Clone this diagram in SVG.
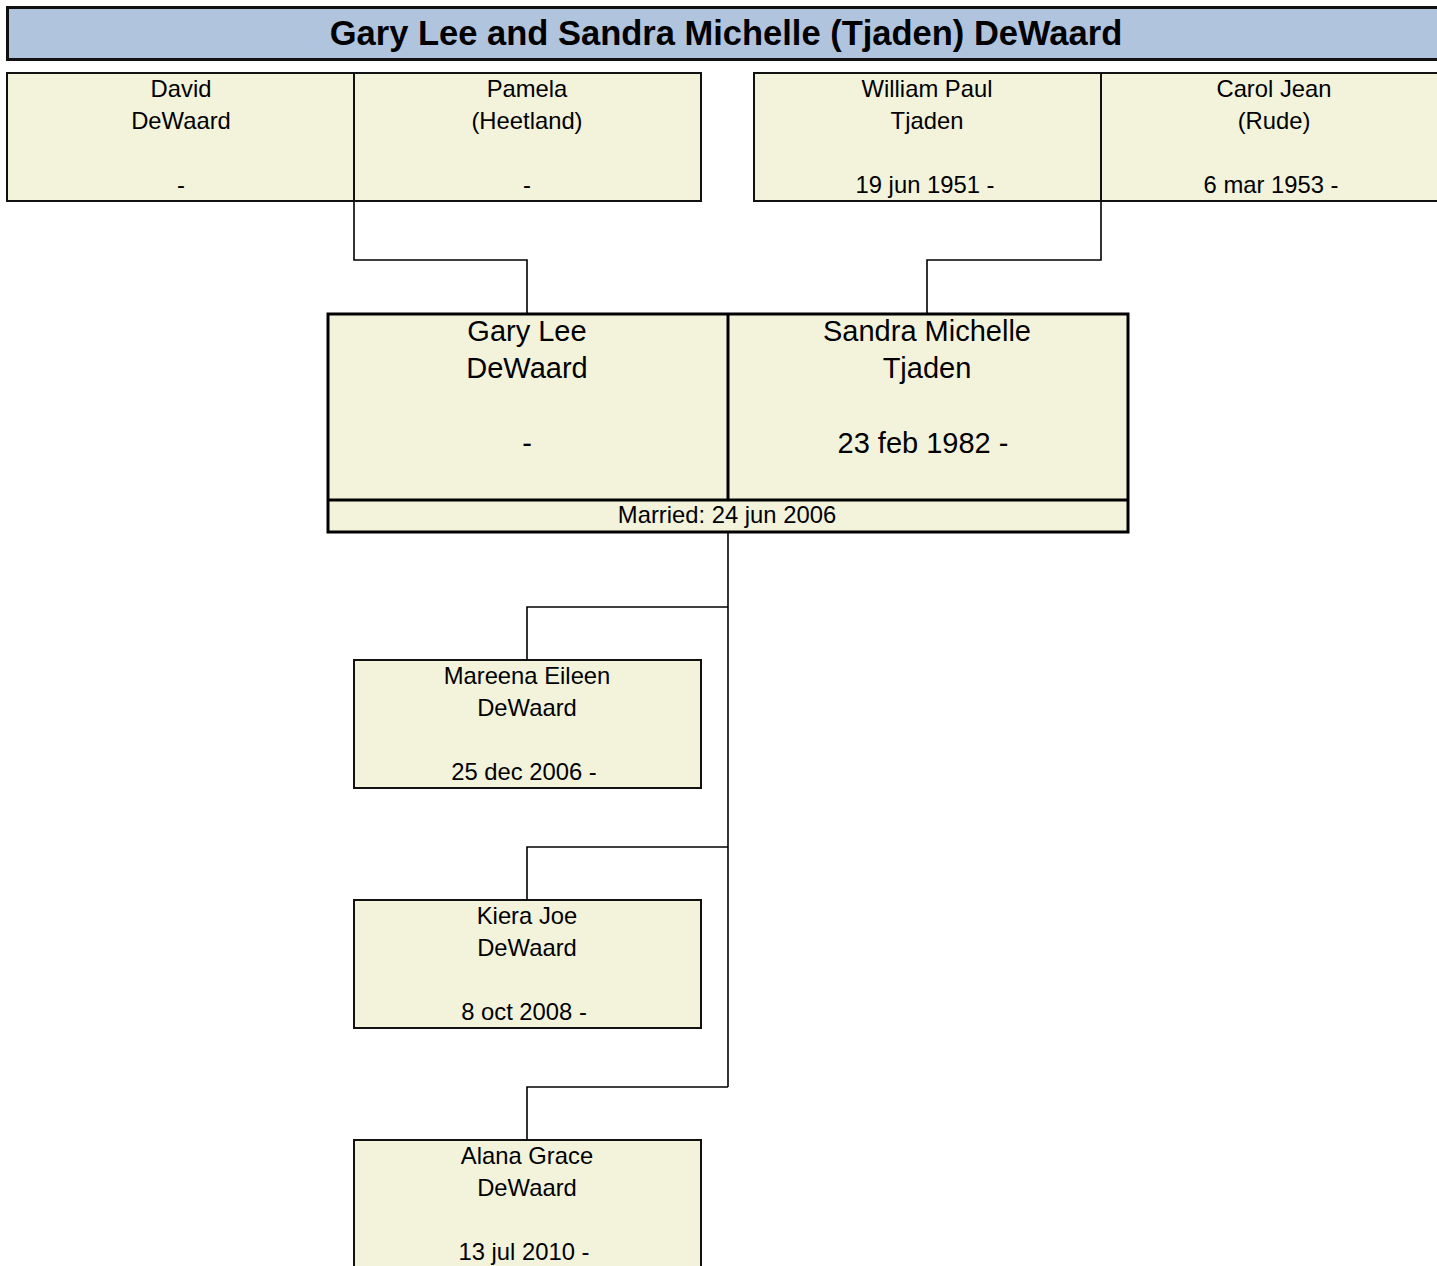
<svg xmlns="http://www.w3.org/2000/svg" width="1437" height="1266" viewBox="0 0 1437 1266">
<style>
.bg{fill:#ffffff}
.title{fill:#B0C4DE;stroke:#111;stroke-width:3}
.box{fill:#F3F3DC;stroke:#111;stroke-width:2}
.cbox{fill:#F3F3DC;stroke:#000;stroke-width:3}
.conn{fill:none;stroke:#000;stroke-width:1.6}
text{font-family:"Liberation Sans",Arial,sans-serif;fill:#000;text-anchor:middle}
.tt{font-size:34.5px;font-weight:bold}
.s{font-size:23.8px}
.b{font-size:29px}
</style>
<rect class="bg" x="0" y="0" width="1437" height="1266"/>
<g id="title">
<rect class="title" x="7.5" y="7.5" width="1440" height="52"/>
<text class="tt" x="726" y="45">Gary Lee and Sandra Michelle (Tjaden) DeWaard</text>
</g>
<g id="connectors">
<polyline class="conn" points="354,201 354,260 527,260 527,313"/>
<polyline class="conn" points="1101,201 1101,260 927,260 927,313"/>
<polyline class="conn" points="728,532 728,1087"/>
<polyline class="conn" points="728,607 527,607 527,660"/>
<polyline class="conn" points="728,847 527,847 527,900"/>
<polyline class="conn" points="728,1087 527,1087 527,1140"/>
</g>
<g id="david">
<rect class="box" x="7" y="73" width="347" height="128"/>
<text class="s" x="181" y="97">David</text>
<text class="s" x="181" y="129">DeWaard</text>
<text class="s" x="181" y="193">-</text>
</g>
<g id="pamela">
<rect class="box" x="354" y="73" width="347" height="128"/>
<text class="s" x="527" y="97">Pamela</text>
<text class="s" x="527" y="129">(Heetland)</text>
<text class="s" x="527" y="193">-</text>
</g>
<g id="william">
<rect class="box" x="754" y="73" width="347" height="128"/>
<text class="s" x="927" y="97">William Paul</text>
<text class="s" x="927" y="129">Tjaden</text>
<text class="s" x="925" y="193">19 jun 1951 -</text>
</g>
<g id="carol">
<rect class="box" x="1101" y="73" width="400" height="128"/>
<text class="s" x="1274" y="97">Carol Jean</text>
<text class="s" x="1274" y="129">(Rude)</text>
<text class="s" x="1271" y="193">6 mar 1953 -</text>
</g>
<g id="couple">
<rect class="cbox" x="328" y="314" width="800" height="218"/>
<line class="cbox" x1="728" y1="314" x2="728" y2="500"/>
<line class="cbox" x1="328" y1="500" x2="1128" y2="500"/>
<g id="gary">
<text class="b" x="527" y="341">Gary Lee</text>
<text class="b" x="527" y="378">DeWaard</text>
<text class="b" x="527" y="453">-</text>
</g>
<g id="sandra">
<text class="b" x="927" y="341">Sandra Michelle</text>
<text class="b" x="927" y="378">Tjaden</text>
<text class="b" x="923" y="453">23 feb 1982 -</text>
</g>
<text class="s" x="727" y="523">Married: 24 jun 2006</text>
</g>
<g id="mareena">
<rect class="box" x="354" y="660" width="347" height="128"/>
<text class="s" x="527" y="684">Mareena Eileen</text>
<text class="s" x="527" y="716">DeWaard</text>
<text class="s" x="524" y="780">25 dec 2006 -</text>
</g>
<g id="kiera">
<rect class="box" x="354" y="900" width="347" height="128"/>
<text class="s" x="527" y="924">Kiera Joe</text>
<text class="s" x="527" y="956">DeWaard</text>
<text class="s" x="524" y="1020">8 oct 2008 -</text>
</g>
<g id="alana">
<rect class="box" x="354" y="1140" width="347" height="160"/>
<text class="s" x="527" y="1164">Alana Grace</text>
<text class="s" x="527" y="1196">DeWaard</text>
<text class="s" x="524" y="1260">13 jul 2010 -</text>
</g>
</svg>
